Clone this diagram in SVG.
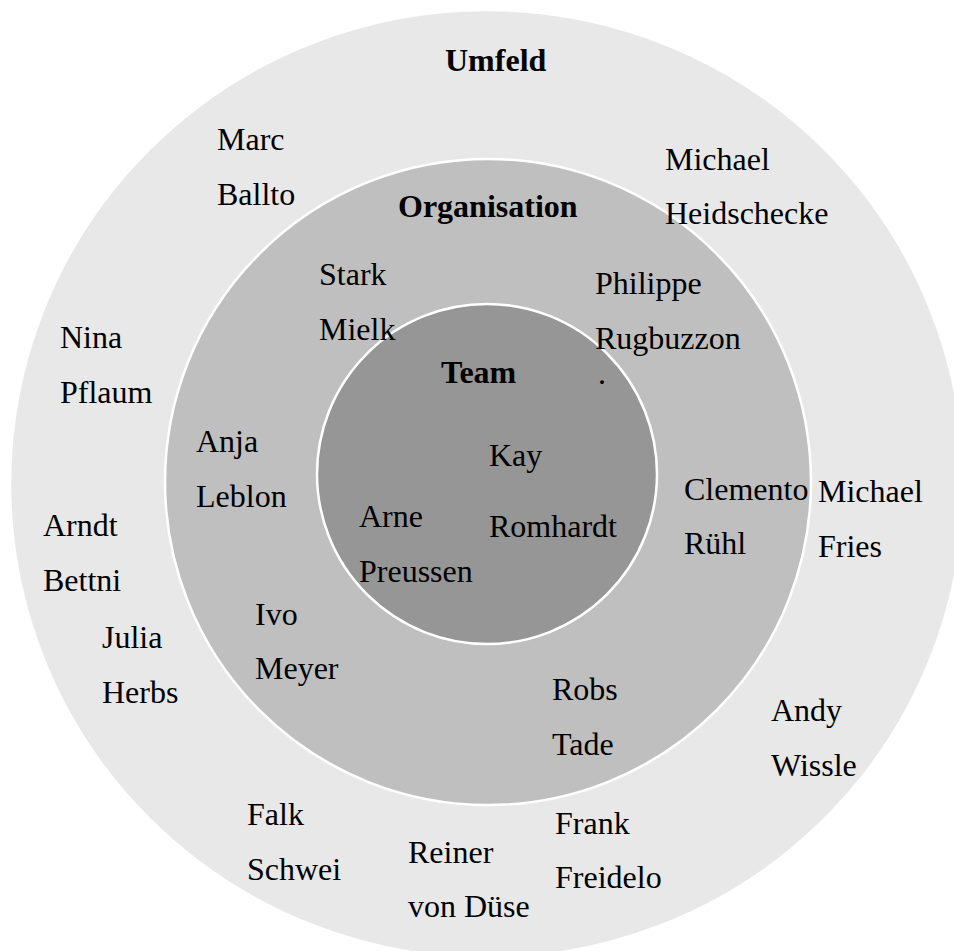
<svg xmlns="http://www.w3.org/2000/svg" width="954" height="951" viewBox="0 0 954 951">
  <style>
    .ring { stroke: #ffffff; stroke-width: 2.5; }
    .lbl { font-family: "Liberation Serif", "Times New Roman", serif; font-size: 32px; fill: #000000; }
    .head { font-weight: bold; }
  </style>
  <rect width="954" height="951" fill="#ffffff"/>

  <g id="umfeld">
    <ellipse class="ring" cx="487" cy="484" rx="477" ry="474" fill="#e8e8e8"/>
    <text class="lbl head" x="445" y="71">Umfeld</text>
  </g>

  <g id="organisation">
    <circle class="ring" cx="488" cy="482" r="323" fill="#bfbfbf"/>
    <text class="lbl head" x="398" y="217">Organisation</text>
  </g>

  <g id="team">
    <circle class="ring" cx="487" cy="474" r="170" fill="#969696"/>
    <text class="lbl head" x="441" y="383">Team</text>
  </g>

  <!-- connectors: none in this diagram -->
  <g id="connectors"></g>

  <!-- people in the outer ring -->
  <g id="marc-ballto"><text class="lbl" x="217" y="150">Marc</text><text class="lbl" x="217" y="205">Ballto</text></g>
  <g id="michael-heidschecke"><text class="lbl" x="665" y="170">Michael</text><text class="lbl" x="665" y="224">Heidschecke</text></g>
  <g id="nina-pflaum"><text class="lbl" x="60" y="348">Nina</text><text class="lbl" x="60" y="403">Pflaum</text></g>
  <g id="arndt-bettni"><text class="lbl" x="43" y="536">Arndt</text><text class="lbl" x="43" y="591">Bettni</text></g>
  <g id="julia-herbs"><text class="lbl" x="102" y="648">Julia</text><text class="lbl" x="102" y="703">Herbs</text></g>
  <g id="michael-fries"><text class="lbl" x="818" y="502">Michael</text><text class="lbl" x="818" y="557">Fries</text></g>
  <g id="andy-wissle"><text class="lbl" x="771" y="721">Andy</text><text class="lbl" x="771" y="776">Wissle</text></g>
  <g id="falk-schwei"><text class="lbl" x="247" y="825">Falk</text><text class="lbl" x="247" y="880">Schwei</text></g>
  <g id="reiner-von-duese"><text class="lbl" x="408" y="863">Reiner</text><text class="lbl" x="408" y="917">von Düse</text></g>
  <g id="frank-freidelo"><text class="lbl" x="555" y="834">Frank</text><text class="lbl" x="555" y="888">Freidelo</text></g>

  <!-- people in the middle ring -->
  <g id="stark-mielk"><text class="lbl" x="319" y="285">Stark</text><text class="lbl" x="319" y="340">Mielk</text></g>
  <g id="philippe-rugbuzzon"><text class="lbl" x="595" y="294">Philippe</text><text class="lbl" x="595" y="349">Rugbuzzon</text><text class="lbl" x="598" y="384" font-size="9">.</text></g>
  <g id="anja-leblon"><text class="lbl" x="196" y="452">Anja</text><text class="lbl" x="196" y="507">Leblon</text></g>
  <g id="clemento-ruehl"><text class="lbl" x="684" y="500">Clemento</text><text class="lbl" x="684" y="554">Rühl</text></g>
  <g id="ivo-meyer"><text class="lbl" x="255" y="625">Ivo</text><text class="lbl" x="255" y="679">Meyer</text></g>
  <g id="robs-tade"><text class="lbl" x="552" y="700">Robs</text><text class="lbl" x="552" y="755">Tade</text></g>

  <!-- people in the core team -->
  <g id="kay-romhardt"><text class="lbl" x="489" y="466">Kay</text><text class="lbl" x="489" y="537">Romhardt</text></g>
  <g id="arne-preussen"><text class="lbl" x="359" y="527">Arne</text><text class="lbl" x="359" y="582">Preussen</text></g>
</svg>
